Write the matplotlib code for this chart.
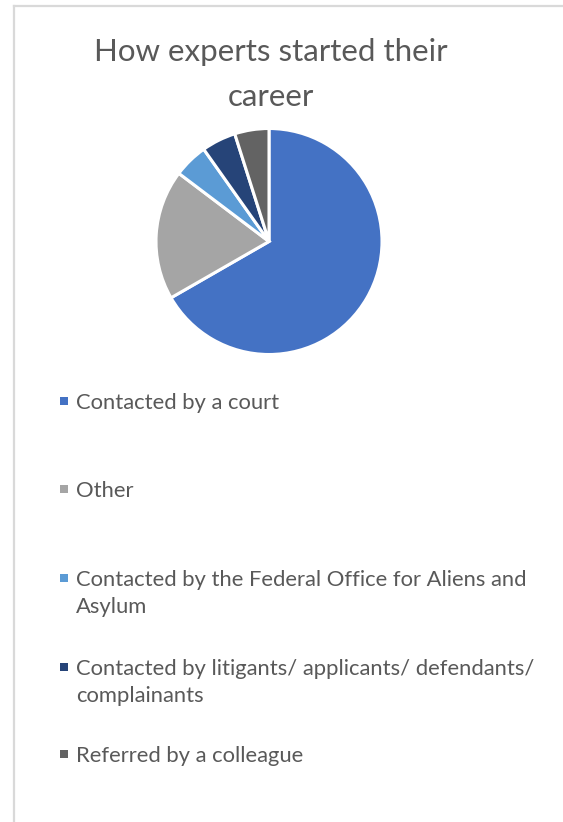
import matplotlib
matplotlib.use("Agg")
import matplotlib.pyplot as plt
from matplotlib.patches import Rectangle
from matplotlib.lines import Line2D

# ---- data ----
title_lines = ["How experts started their", "career"]
categories = [
    "Contacted by a court",
    "Other",
    "Contacted by the Federal Office for Aliens and\nAsylum",
    "Contacted by litigants/ applicants/ defendants/\ncomplainants",
    "Referred by a colleague",
]
values = [66.7, 18.6, 4.9, 4.9, 4.9]
colors = ["#4472C4", "#A5A5A5", "#5B9BD5", "#264478", "#636363"]

W, H = 563, 822
DPI = 100
FONT = "Lato"
TXT = "#595959"

fig = plt.figure(figsize=(W / DPI, H / DPI), dpi=DPI)
fig.patch.set_facecolor("white")

def fx(px):
    return px / W

def fy(py):
    return 1 - py / H

# chart border (only left & top visible in crop)
fig.add_artist(Line2D([fx(13.5), fx(13.5)], [fy(6), fy(900)], color="#D9D9D9", lw=1.6,
                      transform=fig.transFigure))
fig.add_artist(Line2D([fx(13.5), fx(700)], [fy(6), fy(6)], color="#D9D9D9", lw=1.6,
                      transform=fig.transFigure))

# title
title_baselines = [61.5, 106.5]
for line, yb in zip(title_lines, title_baselines):
    fig.text(fx(271), fy(yb), line, ha="center", va="baseline", fontsize=22.5,
             color=TXT, family=FONT)

# pie
cx, cy, r = 269, 241.5, 113
ax = fig.add_axes([fx(cx - r), fy(cy + r), 2 * r / W, 2 * r / H])
ax.pie(values, colors=colors, startangle=90, counterclock=False, radius=1,
       wedgeprops=dict(edgecolor="white", linewidth=2.2))
ax.set_xlim(-1, 1)
ax.set_ylim(-1, 1)
ax.set_aspect("equal")
ax.axis("off")

# legend (manual, Excel-style vertical list)
entry_centers = [401, 489, 578, 667, 754]
line_gap = 27.5
for lab, col, yc in zip(categories, colors, entry_centers):
    sq = 8
    fig.add_artist(Rectangle((fx(59.5), fy(yc + sq / 2)), sq / W, sq / H,
                             transform=fig.transFigure, facecolor=col, edgecolor="none"))
    for k, line in enumerate(lab.split("\n")):
        fig.text(fx(76), fy(yc + 7.5 + k * line_gap), line, ha="left", va="baseline",
                 fontsize=15.8, color=TXT, family=FONT)

fig.savefig("out.png", dpi=DPI, facecolor="white")
